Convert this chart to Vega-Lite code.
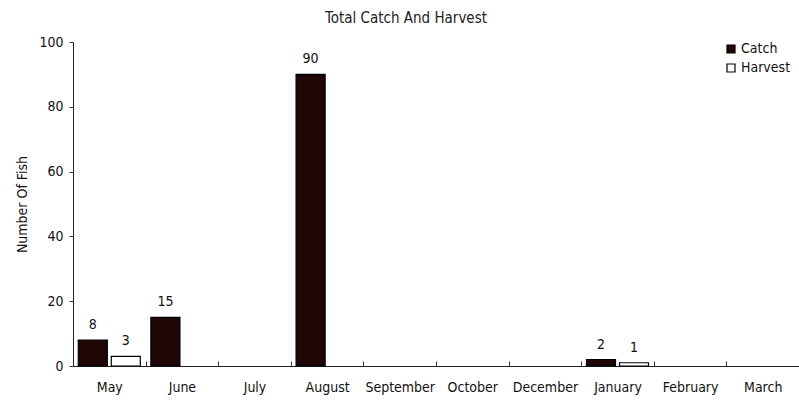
{
  "$schema": "https://vega.github.io/schema/vega-lite/v6.json",
  "autosize": {"type": "none"},
  "padding": {"left": 73, "top": 42, "right": 0, "bottom": 35},
  "width": 726,
  "height": 324,
  "background": "white",
  "config": {
    "font": "Liberation Sans Narrow, DejaVu Sans Condensed, Roboto, sans-serif",
    "view": {"stroke": null}
  },
  "title": {
    "text": "Total Catch And Harvest",
    "fontSize": 15,
    "fontWeight": "normal",
    "color": "#222",
    "anchor": "middle",
    "dx": -30,
    "offset": 9
  },
  "data": {
    "values": [
      {"month": "May", "series": "Catch", "value": 8},
      {"month": "May", "series": "Harvest", "value": 3},
      {"month": "June", "series": "Catch", "value": 15},
      {"month": "August", "series": "Catch", "value": 90},
      {"month": "January", "series": "Catch", "value": 2},
      {"month": "January", "series": "Harvest", "value": 1}
    ]
  },
  "encoding": {
    "x": {
      "field": "month",
      "type": "nominal",
      "sort": null,
      "scale": {
        "domain": ["May", "June", "July", "August", "September", "October", "December", "January", "February", "March"],
        "paddingInner": 0,
        "paddingOuter": 0
      },
      "axis": {
        "title": null,
        "labelAngle": 0,
        "labelFontSize": 14,
        "labelColor": "#111",
        "labelPadding": 19,
        "tickBand": "extent",
        "tickSize": -5,
        "tickColor": "#333",
        "domainColor": "#222",
        "grid": false
      }
    },
    "xOffset": {
      "field": "series",
      "type": "nominal",
      "scale": {"domain": ["Catch", "Harvest"], "paddingInner": 0.12, "paddingOuter": 0.16}
    },
    "y": {
      "field": "value",
      "type": "quantitative",
      "scale": {"domain": [0, 100]},
      "axis": {
        "title": "Number Of Fish",
        "titleFontSize": 14,
        "titleFontWeight": "normal",
        "titleColor": "#111",
        "titlePadding": 9,
        "values": [0, 20, 40, 60, 80, 100],
        "labelFontSize": 14,
        "labelColor": "#111",
        "labelPadding": 6,
        "tickSize": 4,
        "tickColor": "#333",
        "domainColor": "#222",
        "grid": false
      }
    }
  },
  "layer": [
    {
      "mark": {"type": "bar", "stroke": "#000", "strokeWidth": 1.2},
      "encoding": {
        "fill": {
          "field": "series",
          "type": "nominal",
          "scale": {"domain": ["Catch", "Harvest"], "range": ["#1f0707", "#ffffff"]},
          "legend": {
            "title": null,
            "orient": "none",
            "legendX": 651,
            "legendY": 0,
            "symbolType": "square",
            "symbolSize": 64,
            "symbolStrokeColor": "#000",
            "symbolStrokeWidth": 1.2,
            "labelFontSize": 14,
            "labelColor": "#111",
            "labelOffset": 3,
            "rowPadding": 5
          }
        }
      }
    },
    {
      "mark": {"type": "text", "dy": -15, "fontSize": 14, "color": "#111"},
      "encoding": {
        "text": {"field": "value", "type": "quantitative"}
      }
    }
  ]
}
